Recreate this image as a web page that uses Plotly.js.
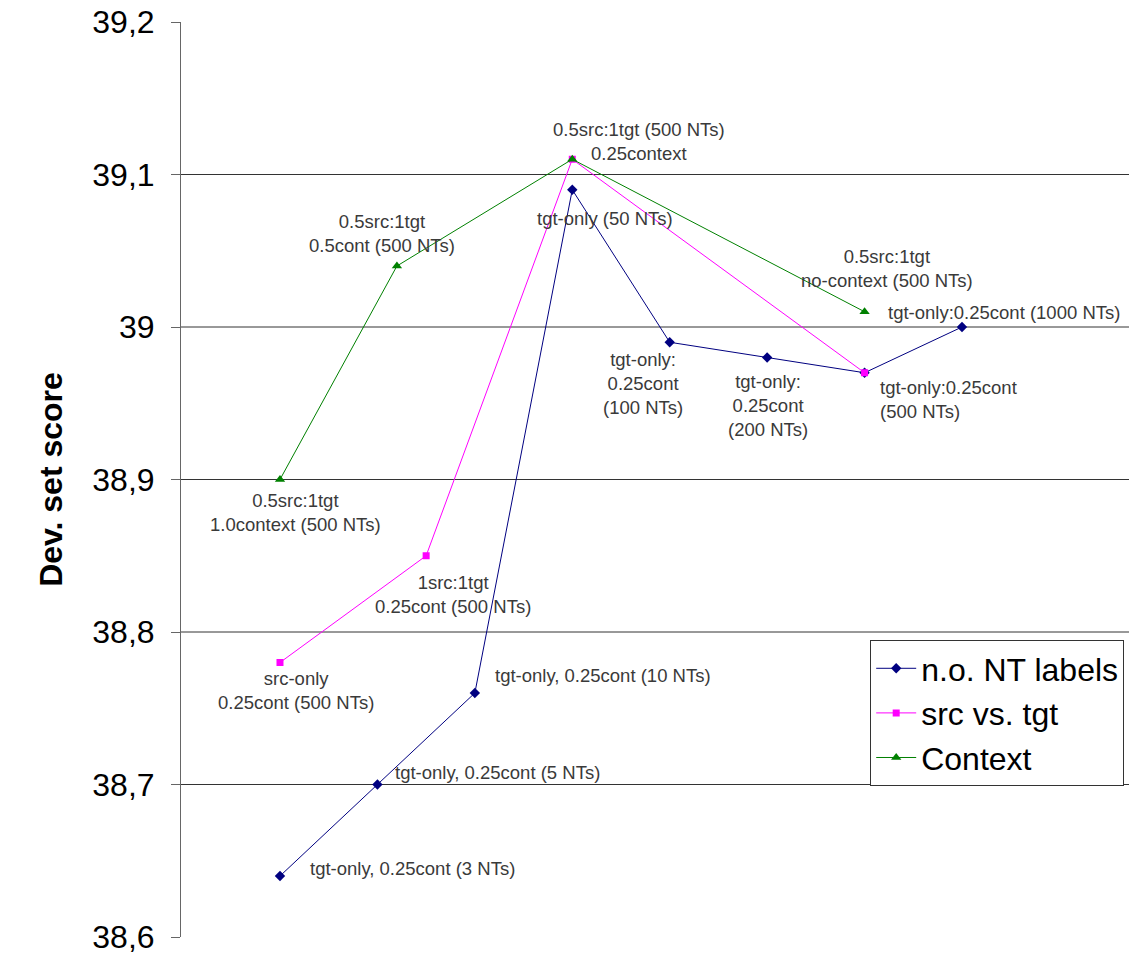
<!DOCTYPE html>
<html>
<head>
<meta charset="utf-8">
<script src="https://cdn.plot.ly/plotly-3.0.1.min.js"></script>
<style>html,body{margin:0;padding:0;background:#fff;}#chart{width:1129px;height:955px;}</style>
</head>
<body>
<div id="chart"></div>
<script>
// ---- data ----
const seriesNames = ['n.o. NT labels', 'src vs. tgt', 'Context'];

const blueX = [1, 2, 3, 4, 5, 6, 7, 8];
const blueY = [38.64, 38.70, 38.76, 39.09, 38.99, 38.98, 38.97, 39.00];
const blueLabels = [
  'tgt-only, 0.25cont (3 NTs)',
  'tgt-only, 0.25cont (5 NTs)',
  'tgt-only, 0.25cont (10 NTs)',
  'tgt-only (50 NTs)',
  'tgt-only:<br>0.25cont<br>(100 NTs)',
  'tgt-only:<br>0.25cont<br>(200 NTs)',
  '',
  'tgt-only:0.25cont (1000 NTs)'
];

const pinkX = [1, 2.5, 4, 7];
const pinkY = [38.78, 38.85, 39.11, 38.97];
const pinkLabels = [
  'src-only<br>0.25cont (500 NTs)',
  '1src:1tgt<br>0.25cont (500 NTs)',
  '',
  'tgt-only:0.25cont<br>(500 NTs)'
];

const greenX = [1, 2.2, 4, 7];
const greenY = [38.90, 39.04, 39.11, 39.01];
const greenLabels = [
  '0.5src:1tgt<br>1.0context (500 NTs)',
  '0.5src:1tgt<br>0.5cont (500 NTs)',
  '0.5src:1tgt (500 NTs)<br>0.25context',
  '0.5src:1tgt<br>no-context (500 NTs)'
];

const yTickVals = [38.6, 38.7, 38.8, 38.9, 39.0, 39.1, 39.2];
const yTickText = ['38,6', '38,7', '38,8', '38,9', '39', '39,1', '39,2'];
const gridVals = [38.7, 38.8, 38.9, 39.0, 39.1];

// ---- label placement (pixels relative to point) ----
const bluePlace = [
  {dx: 28, dy: 8, xa: 'left', al: 'left'},
  {dx: 16, dy: 12, xa: 'left', al: 'left'},
  {dx: 18, dy: 18, xa: 'left', al: 'left'},
  {dx: 33, dy: -29, xa: 'center', al: 'center'},
  {dx: -27, dy: -41, xa: 'center', al: 'center'},
  {dx: 1, dy: -48, xa: 'center', al: 'center'},
  null,
  {dx: -76, dy: 15, xa: 'left', al: 'left'}
];
const pinkPlace = [
  {dx: 16, dy: -28, xa: 'center', al: 'center'},
  {dx: 27, dy: -39, xa: 'center', al: 'center'},
  null,
  {dx: 13, dy: -27, xa: 'left', al: 'left'}
];
const greenPlace = [
  {dx: 16, dy: -33, xa: 'center', al: 'center'},
  {dx: -15, dy: 33, xa: 'center', al: 'center'},
  {dx: 67, dy: 18, xa: 'center', al: 'center'},
  {dx: 22, dy: 43, xa: 'center', al: 'center'}
];

const FONT = 'Arial, "Liberation Sans", sans-serif';

function mkTrace(name, xs, ys, color, symbol, size) {
  return {
    type: 'scatter', mode: 'lines+markers', name: name,
    x: xs, y: ys,
    line: {color: color, width: 1},
    marker: {color: color, symbol: symbol, size: size, line: {width: 0}},
    hoverinfo: 'skip'
  };
}

const traces = [
  mkTrace(seriesNames[0], blueX, blueY, '#000080', 'diamond', 8),
  mkTrace(seriesNames[1], pinkX, pinkY, '#FF00FF', 'square', 7),
  mkTrace(seriesNames[2], greenX, greenY, '#008000', 'triangle-up', 9)
];

const annotations = [];
function addLabels(xs, ys, labels, place) {
  labels.forEach(function (t, i) {
    if (!t || !place[i]) return;
    annotations.push({
      x: xs[i], y: ys[i], xref: 'x', yref: 'y',
      text: t, showarrow: false,
      xanchor: place[i].xa, yanchor: 'middle', align: place[i].al,
      xshift: place[i].dx, yshift: place[i].dy,
      font: {family: FONT, size: 18.5, color: '#3a3a3a'}
    });
  });
}
addLabels(blueX, blueY, blueLabels, bluePlace);
addLabels(pinkX, pinkY, pinkLabels, pinkPlace);
addLabels(greenX, greenY, greenLabels, greenPlace);

const shapes = gridVals.map(function (v) {
  return {type: 'line', xref: 'paper', yref: 'y', x0: 0, x1: 1, y0: v, y1: v,
          line: {color: '#333333', width: 1}, layer: 'below'};
});

const layout = {
  width: 1129, height: 955,
  margin: {l: 181, r: 0, t: 22, b: 18, pad: 0},
  paper_bgcolor: '#ffffff', plot_bgcolor: '#ffffff',
  font: {family: FONT, color: '#000'},
  showlegend: true,
  legend: {
    x: 0.727, y: 0.3246, xanchor: 'left', yanchor: 'top',
    bgcolor: '#ffffff', bordercolor: '#333333', borderwidth: 1,
    font: {family: FONT, size: 32, color: '#000'},
    tracegroupgap: 0, itemwidth: 40
  },
  xaxis: {
    range: [-0.016, 9.714], visible: false, showgrid: false, zeroline: false, fixedrange: true
  },
  yaxis: {
    range: [38.6, 39.2],
    tickmode: 'array', tickvals: yTickVals, ticktext: yTickText,
    ticks: 'outside', ticklen: 9, tickcolor: '#666666', tickwidth: 1,
    showline: true, linecolor: '#666666', linewidth: 1,
    showgrid: false, zeroline: false,
    tickfont: {family: FONT, size: 32, color: '#000'},
    ticklabelstandoff: 10, ticklabeloverflow: 'allow',
    title: {text: 'Dev. set score', standoff: 20,
            font: {family: FONT, size: 32, color: '#000', weight: 'bold'}},
    fixedrange: true
  },
  shapes: shapes,
  annotations: annotations
};

Plotly.newPlot('chart', traces, layout, {displayModeBar: false, staticPlot: true});
</script>
</body>
</html>
